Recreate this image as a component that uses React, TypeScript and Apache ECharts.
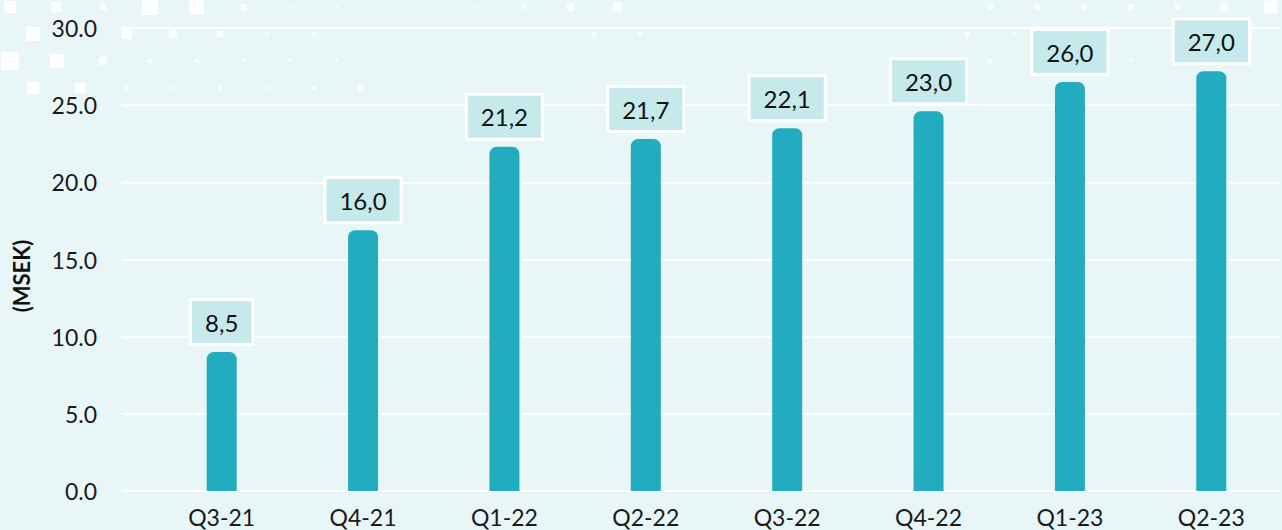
import React, { useEffect, useRef } from "react";
import * as echarts from "echarts";

const categories = ["Q3-21", "Q4-21", "Q1-22", "Q2-22", "Q3-22", "Q4-22", "Q1-23", "Q2-23"];
const barValues = [9.0, 16.9, 22.3, 22.8, 23.5, 24.6, 26.5, 27.2];
const labelTexts = ["8,5", "16,0", "21,2", "21,7", "22,1", "23,0", "26,0", "27,0"];
const yTicks = { min: 0, max: 30, interval: 5 };
const yAxisTitle = "(MSEK)";

// decorative lattice: [row, col, size]
const decor: [number, number, number][] = [
  [0, 0, 12], [0, 1, 10], [0, 2, 6], [0, 3, 16], [0, 4, 15], [0, 5, 6], [0, 6, 2], [0, 7, 2],
  [0, 10, 2], [0, 11, 4], [0, 12, 7], [0, 13, 9], [0, 20, 2], [0, 21, 5], [0, 22, 5], [0, 23, 5],
  [0, 24, 6], [0, 25, 5], [0, 26, 8], [0, 27, 13],
  [1, 0, 14], [1, 2, 10], [1, 3, 8], [1, 4, 6], [1, 5, 3], [1, 6, 4], [1, 12, 4], [1, 13, 4],
  [1, 20, 5], [1, 21, 3], [1, 22, 3], [1, 23, 3], [1, 26, 9],
  [2, 0, 18], [2, 1, 14], [2, 2, 8], [2, 3, 4], [2, 4, 4], [2, 5, 3], [2, 6, 3], [2, 7, 3],
  [2, 8, 2], [2, 9, 2], [2, 12, 2], [2, 20, 2], [2, 21, 4], [2, 24, 3],
  [3, 0, 12], [3, 1, 10], [3, 2, 3], [3, 3, 3], [3, 4, 3], [3, 5, 3], [3, 6, 4], [3, 7, 5], [3, 8, 2],
];

const FONT = 'Lato, "Noto Sans", sans-serif';

export default function App() {
  const ref = useRef<HTMLDivElement>(null);
  useEffect(() => {
    if (!ref.current) return;
    const chart = echarts.init(ref.current, null, { renderer: "svg" });
    const rowY = [7, 34, 61, 88];
    const decorEls = decor.map(([r, c, s]) => {
      const cx = 10 + (r % 2 ? 23.35 : 0) + 46.7 * c;
      const cy = rowY[r];
      return {
        type: "rect",
        z: -10,
        silent: true,
        shape: { x: cx - s / 2, y: cy - s / 2, width: s, height: s },
        style: { fill: "#ffffff", opacity: 0.9 },
      };
    });
    chart.setOption({
      animation: false,
      backgroundColor: "#e8f6f7",
      textStyle: { fontFamily: FONT },
      graphic: [
        ...decorEls,
        {
          type: "text",
          x: 21,
          y: 276,
          rotation: Math.PI / 2,
          style: {
            text: yAxisTitle,
            fontFamily: FONT,
            fontWeight: "bold",
            fontSize: 22,
            fill: "#111",
            align: "center",
            verticalAlign: "middle",
          },
        },
      ],
      grid: [
        { left: 122, right: 2, top: 28, height: 463 },
        { left: 151, width: 1131, top: 28, height: 463 },
      ],
      xAxis: [
        { type: "value", gridIndex: 0, show: false, min: 0, max: 1 },
        {
          type: "category",
          gridIndex: 1,
          data: categories,
          axisLine: { show: false },
          axisTick: { show: false },
          axisLabel: { fontSize: 23, color: "#1a1a1a", margin: 14, fontFamily: FONT },
        },
      ],
      yAxis: [
        {
          type: "value",
          gridIndex: 0,
          min: yTicks.min,
          max: yTicks.max,
          interval: yTicks.interval,
          axisLine: { show: false },
          axisTick: { show: false },
          axisLabel: {
            fontSize: 23,
            color: "#1a1a1a",
            margin: 25,
            fontFamily: FONT,
            formatter: (v: number) => v.toFixed(1),
          },
          splitLine: { lineStyle: { color: "#ffffff", width: 2 } },
        },
        { type: "value", gridIndex: 1, min: yTicks.min, max: yTicks.max, show: false, splitLine: { show: false } },
      ],
      series: [
        {
          type: "bar",
          xAxisIndex: 1,
          yAxisIndex: 1,
          data: barValues,
          barWidth: 30,
          itemStyle: { color: "#23acbf", borderRadius: [7, 7, 0, 0] },
          label: {
            show: true,
            position: "top",
            distance: 9,
            formatter: (p: any) => labelTexts[p.dataIndex],
            fontSize: 24,
            lineHeight: 24,
            color: "#111",
            fontFamily: FONT,
            backgroundColor: "#c6e9eb",
            borderColor: "#ffffff",
            borderWidth: 3,
            padding: [9, 13],
          },
        },
      ],
    });
    return () => chart.dispose();
  }, []);
  return <div ref={ref} style={{ position: "absolute", left: 0, top: 0, width: 1282, height: 530 }} />;
}
